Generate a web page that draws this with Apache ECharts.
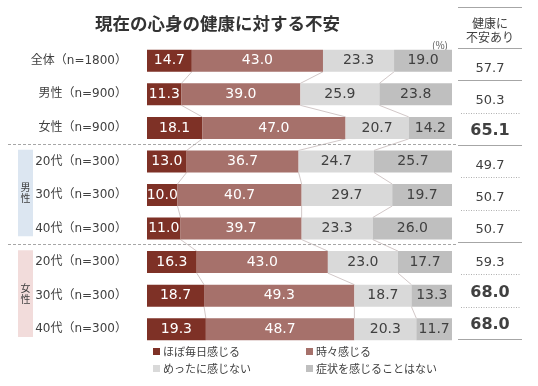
<!DOCTYPE html>
<html>
<head>
<meta charset="utf-8">
<script src="https://cdn.jsdelivr.net/npm/echarts@6/dist/echarts.min.js"></script>
<style>html,body{margin:0;padding:0;background:#fff}#c{width:538px;height:386px}</style>
</head>
<body>
<div id="c"></div>
<script>
var categories = ['全体（n=1800）','男性（n=900）','女性（n=900）','20代（n=300）','30代（n=300）','40代（n=300）','20代（n=300）','30代（n=300）','40代（n=300）'];
var seriesNames = ['ほぼ毎日感じる','時々感じる','めったに感じない','症状を感じることはない'];
var everyDay  = [14.7, 11.3, 18.1, 13.0, 10.0, 11.0, 16.3, 18.7, 19.3];
var sometimes = [43.0, 39.0, 47.0, 36.7, 40.7, 39.7, 43.0, 49.3, 48.7];
var rarely    = [23.3, 25.9, 20.7, 24.7, 29.7, 23.3, 23.0, 18.7, 20.3];
var never     = [19.0, 23.8, 14.2, 25.7, 19.7, 26.0, 17.7, 13.3, 11.7];
var anxious   = [57.7, 50.3, 65.1, 49.7, 50.7, 50.7, 59.3, 68.0, 68.0];
var anxiousBold = [false, false, true, false, false, false, false, true, true];
var rowLineStyle = ['solid','dotted','solid','dotted','dotted','solid','dotted','dotted','solid'];
var groups = [{name: '男性', start: 3, end: 5, color: '#DCE6F1'}, {name: '女性', start: 6, end: 8, color: '#F2DCDB'}];
var titleText = '現在の心身の健康に対する不安';
var colHeader = '健康に\n不安あり';

var colors = ['#7E3126', '#A6716B', '#D9D9D9', '#BFBFBF'];
var labelColors = ['#ffffff', '#ffffff', '#404040', '#404040'];
var allSeries = [everyDay, sometimes, rarely, never];
var NUMFONT = '"DejaVu Sans", "Noto Sans CJK JP", sans-serif';
var JPFONT = '"Noto Sans CJK JP", sans-serif';

var chart = echarts.init(document.getElementById('c'), null, {renderer: 'canvas'});

var barSeries = allSeries.map(function (arr, k) {
  return {
    name: seriesNames[k], type: 'bar', stack: 'total', barWidth: 22,
    xAxisIndex: 0, yAxisIndex: 0,
    itemStyle: {color: colors[k]},
    label: {show: true, position: 'inside', color: labelColors[k], fontSize: 14, fontFamily: NUMFONT,
      formatter: function (p) { return Number(p.value).toFixed(1); }},
    data: arr, z: 3
  };
});

var decor = {
  type: 'custom', xAxisIndex: 0, yAxisIndex: 0, clip: false, silent: true, z: 2,
  encode: {x: 0, y: 1},
  data: categories.map(function (_, i) { return [0, i]; }),
  renderItem: function (params, api) {
    var i = params.dataIndex;
    var ch = [];
    var band = api.size([0, 1])[1];
    var half = 11;
    if (i < categories.length - 1) {
      var a = 0, b = 0;
      for (var k = 0; k < 3; k++) {
        a += allSeries[k][i]; b += allSeries[k][i + 1];
        var p1 = api.coord([a, i]); var p2 = api.coord([b, i + 1]);
        ch.push({type: 'line', shape: {x1: p1[0], y1: p1[1] + half, x2: p2[0], y2: p2[1] - half},
          style: {stroke: '#D2C8C8', lineWidth: 1}});
      }
    }
    groups.forEach(function (g) {
      if (g.start === i) {
        var yPrev = api.coord([0, i - 1])[1], yCur = api.coord([0, i])[1];
        var ys = Math.round((yPrev + yCur) / 2) - 0.5;
        ch.push({type: 'line', shape: {x1: 8, y1: ys, x2: 456, y2: ys},
          style: {stroke: '#A6A6A6', lineWidth: 1, lineDash: [3, 2]}});
        var top = yCur - band / 2 + 5;
        var bot = api.coord([0, g.end])[1] + band / 2 - 9;
        ch.push({type: 'rect', shape: {x: 18, y: top, width: 15, height: bot - top}, style: {fill: g.color}});
        ch.push({type: 'text', style: {text: g.name.split('').join('\n'), x: 25.5, y: (top + bot) / 2,
          align: 'center', verticalAlign: 'middle', textAlign: 'center', textVerticalAlign: 'middle',
          fill: '#404040', font: '10px ' + JPFONT, lineHeight: 11}});
      }
    });
    return {type: 'group', children: ch};
  }
};

var rightCol = {
  type: 'custom', xAxisIndex: 1, yAxisIndex: 1, clip: false, silent: true,
  encode: {x: 0, y: 1},
  data: anxious.map(function (v, i) { return [0.5, i, v]; }),
  renderItem: function (params, api) {
    var i = params.dataIndex;
    var cs = params.coordSys;
    var c = api.coord([0.5, i]);
    var h = api.size([0, 1])[1];
    var bold = anxiousBold[i];
    var ch = [];
    ch.push({type: 'text', style: {text: Number(api.value(2)).toFixed(1), x: c[0], y: c[1] + (bold ? 2 : 4),
      align: 'center', verticalAlign: 'middle', textAlign: 'center', textVerticalAlign: 'middle',
      fill: '#404040', font: (bold ? 'bold 16px ' : '13px ') + NUMFONT}});
    var yb = Math.round(c[1] + h / 2) + 0.5;
    var dotted = rowLineStyle[i] === 'dotted';
    ch.push({type: 'line', shape: {x1: cs.x + (dotted ? 3 : 0), y1: yb, x2: cs.x + cs.width - (dotted ? 2 : 0), y2: yb},
      style: {stroke: dotted ? '#B0B0B0' : '#A6A6A6', lineWidth: 1, lineDash: dotted ? [1, 1.5] : null}});
    if (i === 0) {
      var yt = Math.round(c[1] - h / 2) + 0.5;
      ch.push({type: 'line', shape: {x1: cs.x, y1: yt, x2: cs.x + cs.width, y2: yt},
        style: {stroke: '#A6A6A6', lineWidth: 1}});
    }
    return {type: 'group', children: ch};
  }
};

var legendPos = [[153, 346], [306, 346], [153, 363], [306, 363]];
var legends = seriesNames.map(function (n, k) {
  return {data: [n], left: legendPos[k][0], top: legendPos[k][1], icon: 'rect', itemWidth: 7, itemHeight: 7,
    padding: 0, selectedMode: false, textStyle: {fontSize: 11, color: '#404040', fontFamily: JPFONT, padding: [0, 0, 0, -2]}};
});

chart.setOption({
  animation: false,
  backgroundColor: '#ffffff',
  title: {text: titleText, left: 90, top: 10, textStyle: {fontSize: 17.5, fontWeight: 'bold', color: '#333333', fontFamily: JPFONT}},
  legend: legends,
  grid: [
    {left: 147, width: 305, top: 44, height: 302},
    {left: 458, width: 64, top: 48, height: 291}
  ],
  xAxis: [
    {type: 'value', gridIndex: 0, min: 0, max: 100, show: false},
    {type: 'value', gridIndex: 1, min: 0, max: 1, show: false}
  ],
  yAxis: [
    {type: 'category', gridIndex: 0, inverse: true, data: categories,
      axisLine: {show: false}, axisTick: {show: false},
      axisLabel: {margin: 20, fontSize: 12, color: '#404040', fontFamily: NUMFONT}},
    {type: 'category', gridIndex: 1, inverse: true, data: categories, show: false}
  ],
  graphic: [
    {type: 'line', shape: {x1: 458, y1: 7.5, x2: 522, y2: 7.5}, style: {stroke: '#A6A6A6', lineWidth: 1}},
    {type: 'text', x: 490, y: 30, style: {text: colHeader, align: 'center', verticalAlign: 'middle',
      textAlign: 'center', textVerticalAlign: 'middle', fill: '#404040', font: '12px ' + JPFONT, lineHeight: 14}},
    {type: 'text', x: 440, y: 45, style: {text: '(%)', align: 'center', verticalAlign: 'middle',
      textAlign: 'center', textVerticalAlign: 'middle', fill: '#595959', font: '10px ' + JPFONT}}
  ],
  series: barSeries.concat([decor, rightCol])
});
</script>
</body>
</html>
